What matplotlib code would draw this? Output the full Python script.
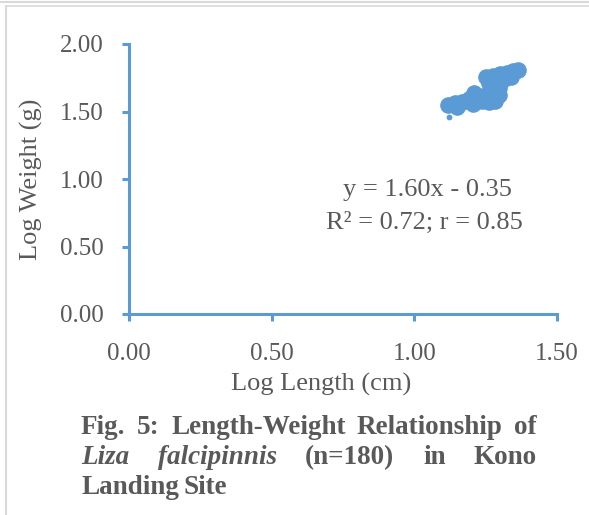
import matplotlib.pyplot as plt
from matplotlib.lines import Line2D

plt.rcParams['font.family'] = ['Liberation Serif', 'DejaVu Serif']

# log10 of total length (cm) and body weight (g)
log_length = [1.119, 1.143, 1.150, 1.168, 1.192, 1.206, 1.210, 1.217, 1.238, 1.241,
              1.262, 1.262, 1.283, 1.287, 1.297, 1.297, 1.262, 1.297, 1.252, 1.276,
              1.287, 1.301, 1.315, 1.325, 1.339, 1.346, 1.364]
log_weight = [1.548, 1.563, 1.533, 1.570, 1.593, 1.556, 1.637, 1.600, 1.578, 1.615,
              1.637, 1.570, 1.578, 1.659, 1.674, 1.622, 1.711, 1.696, 1.756, 1.763,
              1.733, 1.778, 1.741, 1.785, 1.756, 1.800, 1.807]
# the one small specimen
small_length = [1.122]
small_weight = [1.459]

x_ticks = [0.0, 0.5, 1.0, 1.5]
y_ticks = [0.0, 0.5, 1.0, 1.5, 2.0]
equation = "y = 1.60x - 0.35"
fit_stats = "R\u00b2 = 0.72; r = 0.85"

BLUE = "#5B9BD5"
GREY = "#595959"
W, H = 589, 515

fig = plt.figure(figsize=(W / 100, H / 100), dpi=100)
ax = fig.add_axes([129 / W, 1 - 314 / H, 428 / W, 270 / H])

ax.scatter(log_length, log_weight, s=120, color=BLUE, edgecolors=BLUE, zorder=3)
ax.scatter(small_length, small_weight, s=10, color=BLUE, zorder=3)

ax.set_xlim(0, 1.5)
ax.set_ylim(0, 2.0)
ax.set_xticks(x_ticks)
ax.set_yticks(y_ticks)
ax.set_xticklabels([f"{t:.2f}" for t in x_ticks])
ax.set_yticklabels([f"{t:.2f}" for t in y_ticks])
for s in ["top", "right"]:
    ax.spines[s].set_visible(False)
for s in ["left", "bottom"]:
    ax.spines[s].set_color(BLUE)
    ax.spines[s].set_linewidth(2.2)
ax.tick_params(axis="both", colors=BLUE, width=2.2, length=5, labelsize=18,
               labelcolor=GREY)
ax.tick_params(axis="x", pad=16)
ax.tick_params(axis="y", pad=13)
ax.set_facecolor("none")

fig.text(427 / W, 1 - 190 / H, equation, ha="center", va="center",
         fontsize=19, color=GREY)
fig.text(424 / W, 1 - 223 / H, fit_stats, ha="center", va="center",
         fontsize=19, color=GREY)

fig.text(321 / W, 1 - 384 / H, "Log Length (cm)", ha="center", va="center",
         fontsize=19, color=GREY)
fig.text(31 / W, 1 - 179 / H, "Log Weight (g)", ha="center", va="center",
         rotation=90, fontsize=19, color=GREY)

# table cell borders
fig.add_artist(Line2D([0, 1], [1 - 1.5 / H] * 2, color="#D9D9D9", lw=1.5))
fig.add_artist(Line2D([5.5 / W, 1], [1 - 6 / H] * 2, color="#D9D9D9", lw=1.2))
fig.add_artist(Line2D([5.5 / W] * 2, [0, 1 - 6 / H], color="#D9D9D9", lw=1.5))

# justified caption
renderer = fig.canvas.get_renderer()
caption = [
    [("Fig.", "normal"), ("5:", "normal"), ("Length-Weight", "normal"),
     ("Relationship", "normal"), ("of", "normal")],
    [("Liza", "italic"), ("falcipinnis", "italic"), ("(n=180)", "normal"),
     ("in", "normal"), ("Kono", "normal")],
    [("Landing", "normal"), ("Site", "normal")],
]
x0, x1 = 81, 537
line_y = [428, 458, 488]
for i, (words, yy) in enumerate(zip(caption, line_y)):
    texts = [fig.text(0, 1 - yy / H, w, fontsize=19.5, fontweight="bold",
                      style=st, color=GREY, va="center") for w, st in words]
    widths = [t.get_window_extent(renderer).width for t in texts]
    if i < len(caption) - 1:
        gap = (x1 - x0 - sum(widths)) / (len(texts) - 1)
    else:
        gap = 5
    x = x0
    for t, w in zip(texts, widths):
        t.set_x(x / W)
        x += w + gap

fig.savefig("out.png", dpi=100)
